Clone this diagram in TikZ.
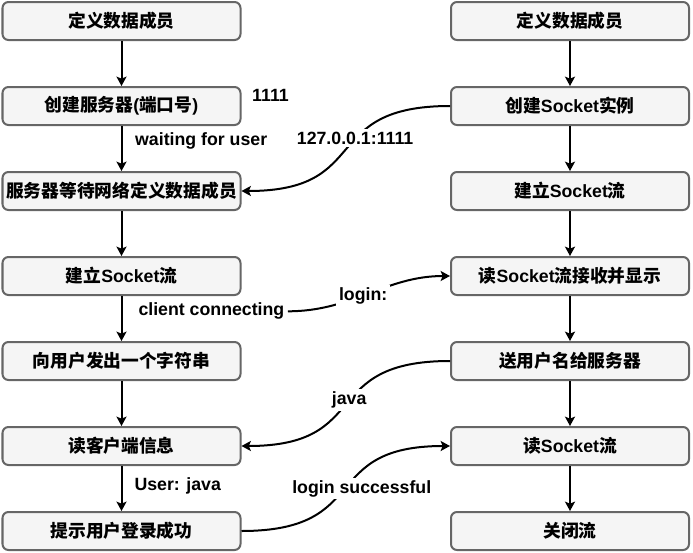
\documentclass[tikz,border=0pt]{standalone}
\usepackage{fontspec}
\setmainfont{Liberation Sans}
\newfontfamily\cjk{Noto Sans CJK SC}
\newcommand{\zh}[1]{{\cjk\bfseries #1}}
\usetikzlibrary{arrows.meta}
\definecolor{boxgray}{HTML}{666666}
\definecolor{boxfill}{HTML}{F5F5F5}

\begin{document}
\begin{tikzpicture}[x=0.75pt, y=-0.75pt,
	box/.style={draw=boxgray, fill=boxfill, line width=1.5pt, rounded corners=4.5pt,
		minimum width=178.5pt, minimum height=28.5pt, inner sep=0pt,
		font=\fontsize{13.3}{16}\selectfont\bfseries},
	flow/.style={line width=1.5pt, -{Stealth[length=7pt, width=7.5pt, inset=1.5pt]}},
	txt/.style={font=\fontsize{13.3}{16}\selectfont\bfseries, inner sep=2pt},
	tag/.style={txt, fill=white}]
	\useasboundingbox (0,0) rectangle (693,553);

	\node [box] (S1) at (121.5, 21)  {\zh{定义数据成员}};
	\node [box] (S2) at (121.5, 106) {\zh{创建服务器}(\zh{端口号})};
	\node [box] (S3) at (121.5, 191) {\zh{服务器等待网络定义数据成员}};
	\node [box] (S4) at (121.5, 276) {\zh{建立}Socket\zh{流}};
	\node [box] (S5) at (121.5, 361) {\zh{向用户发出一个字符串}};
	\node [box] (S6) at (121.5, 446) {\zh{读客户端信息}};
	\node [box] (S7) at (121.5, 531) {\zh{提示用户登录成功}};

	\node [box] (C1) at (570, 21)  {\zh{定义数据成员}};
	\node [box] (C2) at (570, 106) {\zh{创建}Socket\zh{实例}};
	\node [box] (C3) at (570, 191) {\zh{建立}Socket\zh{流}};
	\node [box] (C4) at (570, 276) {\zh{读}Socket\zh{流接收并显示}};
	\node [box] (C5) at (570, 361) {\zh{送用户名给服务器}};
	\node [box] (C6) at (570, 446) {\zh{读}Socket\zh{流}};
	\node [box] (C7) at (570, 531) {\zh{关闭流}};

	\node [txt] (port) at (270.5, 95) {1111};

	\draw [flow] (S1) -- (S2);
	\draw [flow] (S2) -- node [txt, anchor=west, pos=.34, xshift=7.5pt] {waiting for user} (S3);
	\draw [flow] (S3) -- (S4);
	\draw [flow] (S4) -- node [txt, anchor=west, pos=.34, xshift=10pt] (conn) {client connecting} (S5);
	\draw [flow] (S5) -- (S6);
	\draw [flow] (S6) -- node [txt, anchor=west, pos=.45, xshift=7pt] {User: java} (S7);

	\draw [flow] (C1) -- (C2);
	\draw [flow] (C2) -- (C3);
	\draw [flow] (C3) -- (C4);
	\draw [flow] (C4) -- (C5);
	\draw [flow] (C5) -- (C6);
	\draw [flow] (C6) -- (C7);

	\draw [flow] (C2) to [out=180, in=0, looseness=1.5] node [tag, pos=.42] {127.0.0.1:1111} (S3);
	\draw [flow] (conn) to [out=0, in=180] node [tag, pos=.46] {login:} (C4);
	\draw [flow] (C5) to [out=180, in=0, looseness=1.5] node [tag, pos=.47] {java} (S6);
	\draw [flow] (S7) to [out=0, in=180, looseness=1.5] node [tag, pos=.5, xshift=12pt] {login successful} (C6);
\end{tikzpicture}
\end{document}
